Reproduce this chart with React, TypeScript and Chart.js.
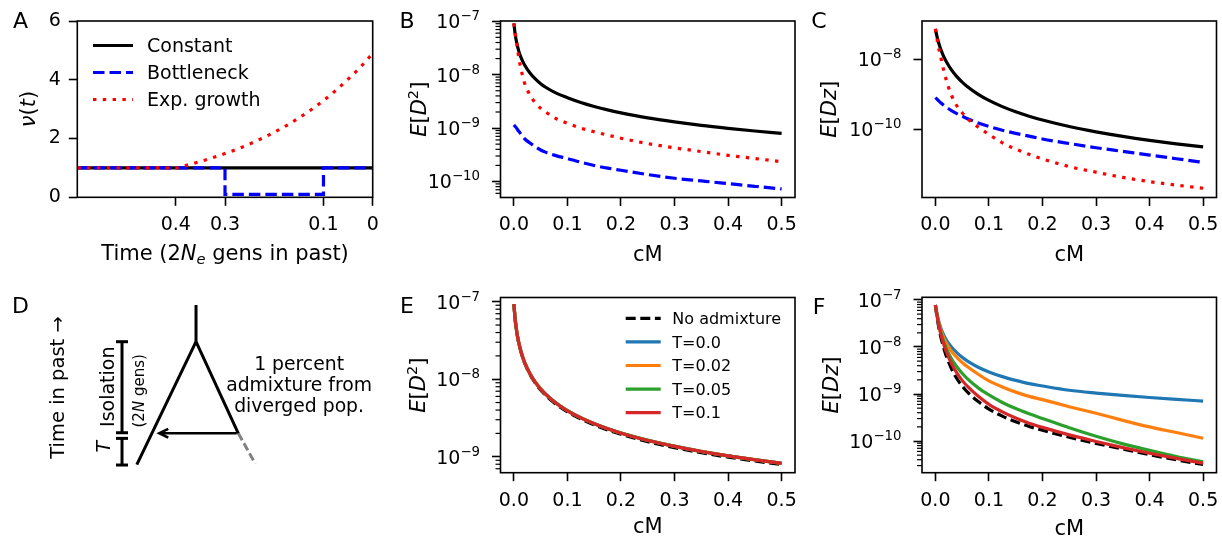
import React, { useEffect, useRef } from "react";
import { Chart, registerables } from "chart.js";

Chart.register(...registerables);

const FONT = "'DejaVu Sans', sans-serif";
const FS = 19;
const LABEL_FS = 21;

// ---------------- Panel A : population size histories ----------------
const timeTicks = [0.4, 0.3, 0.1, 0];
const nuTicks = [0, 2, 4, 6];
const constantTime = [0.6, 0];
const constantNu = [1, 1];
const bottleneckTime = [0.6, 0.3, 0.3, 0.1, 0.1, 0];
const bottleneckNu = [1, 1, 0.1, 0.1, 1, 1];
const growthTime = [0.6, 0.4, 0.375, 0.35, 0.325, 0.3, 0.275, 0.25, 0.225, 0.2, 0.175, 0.15, 0.125, 0.1, 0.075, 0.05, 0.025, 0];
const growthNu = [1, 1, 1.104, 1.22, 1.347, 1.488, 1.643, 1.814, 2.004, 2.213, 2.443, 2.7, 2.98, 3.29, 3.635, 4.02, 4.43, 4.9];

// ---------------- recombination distance grid (cM) ----------------
const cM = [0, 0.0025, 0.005, 0.0075, 0.01, 0.015, 0.02, 0.03, 0.04, 0.05, 0.06, 0.08, 0.1, 0.125, 0.15, 0.175, 0.2, 0.25, 0.3, 0.35, 0.4, 0.45, 0.5];
const cMTicks = [0, 0.1, 0.2, 0.3, 0.4, 0.5];

// ---------------- Panel B : log10 E[D^2] ----------------
const bConstantLog = [-7.04, -7.25, -7.39, -7.5, -7.59, -7.72, -7.82, -7.97, -8.08, -8.17, -8.24, -8.35, -8.43, -8.52, -8.595, -8.66, -8.715, -8.81, -8.885, -8.95, -9.005, -9.055, -9.1];
const bBottleneckLog = [-8.94, -8.97, -9.0, -9.04, -9.07, -9.14, -9.2, -9.28, -9.35, -9.41, -9.455, -9.52, -9.57, -9.64, -9.7, -9.75, -9.79, -9.87, -9.94, -9.99, -10.04, -10.09, -10.14];
const bGrowthLog = [-7.04, -7.22, -7.39, -7.57, -7.73, -7.97, -8.16, -8.38, -8.53, -8.63, -8.705, -8.83, -8.91, -9.0, -9.07, -9.13, -9.19, -9.29, -9.37, -9.44, -9.51, -9.57, -9.63];
const bTicks = [1e-10, 1e-9, 1e-8, 1e-7];

// ---------------- Panel C : log10 E[Dz] ----------------
const cConstantLog = [-7.134, -7.319, -7.472, -7.602, -7.715, -7.905, -8.06, -8.306, -8.498, -8.655, -8.788, -9.005, -9.178, -9.355, -9.502, -9.628, -9.738, -9.923, -10.075, -10.205, -10.318, -10.418, -10.507];
const cBottleneckLog = [-9.095, -9.136, -9.173, -9.21, -9.244, -9.307, -9.365, -9.467, -9.555, -9.63, -9.7, -9.82, -9.92, -10.03, -10.12, -10.2, -10.28, -10.41, -10.53, -10.635, -10.74, -10.845, -10.95];
const cGrowthLog = [-7.13, -7.36, -7.59, -7.78, -7.94, -8.28, -8.58, -9.03, -9.33, -9.53, -9.7, -9.94, -10.15, -10.39, -10.57, -10.72, -10.85, -11.07, -11.23, -11.38, -11.5, -11.6, -11.69];
const cTicks = [1e-10, 1e-8];

// ---------------- Panel E : log10 E[D^2] with admixture ----------------
const eNoAdmixLog = [-7.03, -7.236, -7.374, -7.478, -7.561, -7.689, -7.79, -7.94, -8.05, -8.14, -8.213, -8.33, -8.42, -8.513, -8.59, -8.655, -8.71, -8.805, -8.882, -8.948, -9.005, -9.055, -9.1];
const eT0Log = [-7.03, -7.233, -7.37, -7.473, -7.555, -7.682, -7.781, -7.928, -8.037, -8.124, -8.197, -8.313, -8.404, -8.496, -8.572, -8.637, -8.693, -8.787, -8.864, -8.93, -8.987, -9.037, -9.083];
const eT002Log = [-7.03, -7.234, -7.371, -7.474, -7.556, -7.683, -7.782, -7.929, -8.038, -8.125, -8.198, -8.314, -8.405, -8.497, -8.573, -8.638, -8.694, -8.788, -8.865, -8.931, -8.988, -9.038, -9.084];
const eT005Log = [-7.03, -7.234, -7.372, -7.474, -7.557, -7.684, -7.783, -7.93, -8.039, -8.126, -8.199, -8.315, -8.406, -8.498, -8.574, -8.639, -8.695, -8.789, -8.866, -8.932, -8.989, -9.039, -9.085];
const eT01Log = [-7.03, -7.235, -7.372, -7.475, -7.557, -7.685, -7.784, -7.931, -8.04, -8.127, -8.2, -8.316, -8.407, -8.499, -8.575, -8.64, -8.696, -8.79, -8.867, -8.933, -8.99, -9.04, -9.085];
const eTicks = [1e-9, 1e-8, 1e-7];

// ---------------- Panel F : log10 E[Dz] with admixture ----------------
const fNoAdmixLog = [-7.106, -7.32, -7.5, -7.65, -7.78, -8.0, -8.18, -8.46, -8.67, -8.83, -8.96, -9.16, -9.32, -9.47, -9.59, -9.69, -9.77, -9.92, -10.05, -10.17, -10.29, -10.4, -10.5];
const fT0Log = [-7.106, -7.26, -7.39, -7.5, -7.59, -7.73, -7.84, -8.0, -8.12, -8.22, -8.3, -8.43, -8.53, -8.63, -8.71, -8.78, -8.83, -8.92, -8.98, -9.03, -9.075, -9.115, -9.15];
const fT002Log = [-7.106, -7.27, -7.41, -7.53, -7.63, -7.79, -7.91, -8.09, -8.22, -8.33, -8.42, -8.58, -8.72, -8.85, -8.96, -9.05, -9.12, -9.27, -9.41, -9.56, -9.7, -9.82, -9.94];
const fT005Log = [-7.106, -7.29, -7.44, -7.57, -7.68, -7.87, -8.02, -8.25, -8.42, -8.56, -8.68, -8.87, -9.02, -9.18, -9.31, -9.42, -9.52, -9.72, -9.9, -10.06, -10.2, -10.33, -10.44];
const fT01Log = [-7.106, -7.3, -7.46, -7.6, -7.72, -7.92, -8.09, -8.35, -8.55, -8.71, -8.84, -9.05, -9.22, -9.38, -9.51, -9.62, -9.71, -9.87, -10.01, -10.14, -10.26, -10.37, -10.47];
const fTicks = [1e-10, 1e-9, 1e-8, 1e-7];

// ---------------- Panel D : schematic (time in units of 2N gens) ----------------
const treeTrunk = [[0, 1.73], [0, 1.333]];
const treeLeft = [[0, 1.333], [-0.64, 0.005]];
const treeRight = [[0, 1.333], [0.457, 0.343]];
const treeGhost = [[0.457, 0.343], [0.64, 0.015]];
const arrowShaft = [[0.44, 0.343], [-0.393, 0.343]];
const arrowHead = [[-0.3, 0.39], [-0.397, 0.343], [-0.3, 0.296]];
const isolationBar = [[-0.8, 0.349], [-0.8, 1.333]];
const tBar = [[-0.8, 0], [-0.8, 0.288]];

// ---------------- styles ----------------
const BLACK = "#000000";
const BLUE = "#0000ff";
const RED = "#ff0000";
const TAB_BLUE = "#1f77b4";
const TAB_ORANGE = "#ff7f0e";
const TAB_GREEN = "#2ca02c";
const TAB_RED = "#d62728";
const DASH = [11.5, 5];
const DOT = [3.4, 6.4];
const LW = 3.2;

type Seg = { t: string; it?: boolean; sc?: number; dy?: number };

function drawRich(ctx: CanvasRenderingContext2D, segs: Seg[], x: number, y: number, rot: number, size: number, align: "center" | "right" = "center") {
  ctx.save();
  ctx.translate(x, y);
  ctx.rotate(rot);
  ctx.fillStyle = BLACK;
  ctx.textAlign = "left";
  ctx.textBaseline = "alphabetic";
  const fontOf = (s: Seg) => `${s.it ? "italic " : ""}${size * (s.sc || 1)}px ${FONT}`;
  const widths = segs.map((s) => {
    ctx.font = fontOf(s);
    return ctx.measureText(s.t).width;
  });
  const total = widths.reduce((a, b) => a + b, 0);
  let cx = align === "right" ? -total : -total / 2;
  segs.forEach((s, i) => {
    ctx.font = fontOf(s);
    ctx.fillText(s.t, cx, 0.36 * size + (s.dy || 0) * size);
    cx += widths[i];
  });
  ctx.restore();
}

const framePlugin = {
  id: "frame",
  afterDatasetsDraw(chart: any) {
    const { ctx, chartArea: a } = chart;
    ctx.save();
    ctx.strokeStyle = BLACK;
    ctx.lineWidth = 1.6;
    ctx.strokeRect(a.left, a.top, a.right - a.left, a.bottom - a.top);
    ctx.restore();
  },
};

const minorTicksPlugin = {
  id: "minorTicks",
  afterDraw(chart: any) {
    const s = chart.scales.y;
    const a = chart.chartArea;
    const ctx = chart.ctx;
    const lo = Math.log10(s.min);
    const hi = Math.log10(s.max);
    ctx.save();
    ctx.strokeStyle = BLACK;
    ctx.lineWidth = 1.2;
    for (let e = Math.floor(lo); e <= Math.ceil(hi); e++) {
      for (let m = 2; m <= 9; m++) {
        const v = m * Math.pow(10, e);
        if (v < s.min || v > s.max) continue;
        const y = s.getPixelForValue(v);
        ctx.beginPath();
        ctx.moveTo(a.left - 5, y);
        ctx.lineTo(a.left, y);
        ctx.stroke();
      }
    }
    ctx.restore();
  },
};

// power-of-ten tick labels (10 with a raised exponent), placed from the scale's own ticks
const logLabelsPlugin = (gap: number) => ({
  id: "logLabels",
  afterDraw(chart: any) {
    const s = chart.scales.y;
    const a = chart.chartArea;
    s.ticks.forEach((t: any) => {
      const e = Math.round(Math.log10(t.value));
      const exp = String(e).replace("-", "\u2212");
      drawRich(chart.ctx, [{ t: "10" }, { t: exp, sc: 0.7, dy: -0.42 }], a.left - gap, s.getPixelForValue(t.value), 0, FS, "right");
    });
  },
});

function textPlugin(id: string, items: { segs: Seg[]; x: number; y: number; rot: number; size: number }[]) {
  return {
    id,
    afterDraw(chart: any) {
      items.forEach((it) => drawRich(chart.ctx, it.segs, it.x, it.y, it.rot, it.size));
    },
  };
}

function legendPlugin(cfg: { x0: number; x1: number; tx: number; y0: number; dy: number; size: number }) {
  return {
    id: "inLegend",
    afterDraw(chart: any) {
      const ctx = chart.ctx;
      ctx.save();
      chart.data.datasets.forEach((ds: any, i: number) => {
        const y = cfg.y0 + i * cfg.dy;
        ctx.strokeStyle = ds.borderColor;
        ctx.lineWidth = ds.borderWidth;
        ctx.lineCap = "butt";
        ctx.setLineDash(ds.borderDash || []);
        ctx.beginPath();
        ctx.moveTo(cfg.x0, y);
        ctx.lineTo(cfg.x1, y);
        ctx.stroke();
        ctx.setLineDash([]);
        ctx.fillStyle = BLACK;
        ctx.font = `${cfg.size}px ${FONT}`;
        ctx.textAlign = "left";
        ctx.textBaseline = "alphabetic";
        ctx.fillText(ds.label, cfg.tx, y + 0.36 * cfg.size);
      });
      ctx.restore();
    },
  };
}

const LETTER_SIZE = 22;
const letter = (t: string, x: number, y: number) => textPlugin("letter", [{ segs: [{ t }], x, y, rot: 0, size: LETTER_SIZE }]);

const tickFont = { family: FONT, size: FS };
const tickGrid = (len: number) => ({ display: true, drawOnChartArea: false, drawTicks: true, tickLength: len, tickWidth: 1.6, tickColor: BLACK });

const GEO: any = {
  A: { x: 0, y: 0, w: 400, h: 270, area: { l: 77.3, t: 21, r: 372.7, b: 197.3 } },
  B: { x: 400, y: 0, w: 410, h: 270, area: { l: 100.5, t: 21, r: 395, b: 197.5 } },
  C: { x: 810, y: 0, w: 412, h: 270, area: { l: 112, t: 21, r: 406.5, b: 197.5 } },
  D: { x: 0, y: 270, w: 400, h: 272 },
  E: { x: 400, y: 270, w: 410, h: 272, area: { l: 100.5, t: 27.5, r: 395, b: 202.7 } },
  F: { x: 810, y: 270, w: 412, h: 272, area: { l: 112, t: 27.3, r: 406.5, b: 202.7 } },
};

const baseOptions = (g: any) => ({
  animation: false,
  responsive: false,
  devicePixelRatio: 1,
  events: [],
  layout: { autoPadding: false, padding: { left: 0, top: g.area.t, right: g.w - g.area.r, bottom: 0 } },
  plugins: { legend: { display: false }, tooltip: { enabled: false } },
});

const xy = (xs: number[], ys: number[]) => xs.map((x, i) => ({ x, y: ys[i] }));

function makeA() {
  const g = GEO.A;
  return {
    type: "line",
    data: {
      datasets: [
        { label: "Constant", data: xy(constantTime, constantNu), borderColor: BLACK, borderWidth: LW, borderDash: [], pointRadius: 0, order: 3 },
        { label: "Bottleneck", data: xy(bottleneckTime, bottleneckNu), borderColor: BLUE, borderWidth: LW, borderDash: DASH, pointRadius: 0, order: 2 },
        { label: "Exp. growth", data: xy(growthTime, growthNu), borderColor: RED, borderWidth: LW, borderDash: DOT, pointRadius: 0, cubicInterpolationMode: "monotone", order: 1 },
      ],
    },
    options: {
      ...baseOptions(g),
      scales: {
        x: {
          type: "linear", min: 0, max: 0.6, reverse: true,
          afterBuildTicks: (s: any) => { s.ticks = timeTicks.map((v) => ({ value: v })); },
          afterFit: (s: any) => { s.height = g.h - g.area.b; s.paddingLeft = 0; s.paddingRight = 0; },
          ticks: { font: tickFont, color: BLACK, padding: 8, maxRotation: 0, autoSkip: false, callback: (v: any) => String(v) },
          grid: tickGrid(8.5), border: { display: false },
        },
        y: {
          type: "linear", min: 0, max: 6,
          afterBuildTicks: (s: any) => { s.ticks = nuTicks.map((v) => ({ value: v })); },
          afterFit: (s: any) => { s.width = g.area.l; s.paddingTop = 0; s.paddingBottom = 0; },
          ticks: { font: tickFont, color: BLACK, padding: 8, autoSkip: false, callback: (v: any) => String(v) },
          grid: tickGrid(8.5), border: { display: false },
        },
      },
    },
    plugins: [
      framePlugin,
      legendPlugin({ x0: 93, x1: 133, tx: 147, y0: 45.5, dy: 27, size: FS }),
      textPlugin("titles", [
        { segs: [{ t: "\u03bd", it: true }, { t: "(" }, { t: "t", it: true }, { t: ")" }], x: 27.5, y: 109, rot: -Math.PI / 2, size: LABEL_FS },
        { segs: [{ t: "Time (2" }, { t: "N", it: true }, { t: "e", it: true, sc: 0.7, dy: 0.2 }, { t: " gens in past)" }], x: 225, y: 252, rot: 0, size: LABEL_FS },
      ]),
      letter("A", 20.5, 20.5),
    ],
  };
}

type Series = { label: string; log: number[]; color: string; dash: number[]; order: number };

function logPanel(g: any, series: Series[], yMinLog: number, yMaxLog: number, yMajor: number[], minor: boolean, yTitle: Seg[], yTitleX: number, xTitleY: number, letterCfg: [string, number, number], extra: any[]) {
  const datasets = series.map((s) => ({
    label: s.label,
    data: cM.map((x, i) => ({ x, y: Math.pow(10, s.log[i]) })),
    borderColor: s.color,
    backgroundColor: s.color,
    borderDash: s.dash,
    borderWidth: LW,
    pointRadius: 0,
    cubicInterpolationMode: "monotone",
    order: s.order,
  }));
  const plugins: any[] = [framePlugin, logLabelsPlugin(20.5)];
  if (minor) plugins.push(minorTicksPlugin);
  plugins.push(textPlugin("titles", [
    { segs: yTitle, x: yTitleX, y: (g.area.t + g.area.b) / 2, rot: -Math.PI / 2, size: LABEL_FS },
    { segs: [{ t: "cM" }], x: (g.area.l + g.area.r) / 2, y: xTitleY, rot: 0, size: LABEL_FS },
  ]));
  plugins.push(letter(letterCfg[0], letterCfg[1], letterCfg[2]));
  plugins.push(...extra);
  return {
    type: "line",
    data: { datasets },
    options: {
      ...baseOptions(g),
      scales: {
        x: {
          type: "linear", min: -0.025, max: 0.525,
          afterBuildTicks: (s: any) => { s.ticks = cMTicks.map((v) => ({ value: v })); },
          afterFit: (s: any) => { s.height = g.h - g.area.b; s.paddingLeft = 0; s.paddingRight = 0; },
          ticks: { font: tickFont, color: BLACK, padding: 8, maxRotation: 0, autoSkip: false, callback: (v: any) => Number(v).toFixed(1) },
          grid: tickGrid(8.5), border: { display: false },
        },
        y: {
          type: "logarithmic", min: Math.pow(10, yMinLog), max: Math.pow(10, yMaxLog),
          afterBuildTicks: (s: any) => { s.ticks = yMajor.map((v) => ({ value: v })); },
          afterFit: (s: any) => { s.width = g.area.l; s.paddingTop = 0; s.paddingBottom = 0; },
          ticks: { display: false, autoSkip: false },
          grid: tickGrid(8.5), border: { display: false },
        },
      },
    },
    plugins,
  };
}

const ED2: Seg[] = [{ t: "E", it: true }, { t: "[" }, { t: "D", it: true }, { t: "2", sc: 0.7, dy: -0.38 }, { t: "]" }];
const EDZ: Seg[] = [{ t: "E", it: true }, { t: "[" }, { t: "Dz", it: true }, { t: "]" }];

const makeB = () =>
  logPanel(GEO.B, [
    { label: "Constant", log: bConstantLog, color: BLACK, dash: [], order: 3 },
    { label: "Bottleneck", log: bBottleneckLog, color: BLUE, dash: DASH, order: 2 },
    { label: "Exp. growth", log: bGrowthLog, color: RED, dash: DOT, order: 1 },
  ], -10.3, -6.995, bTicks, true, ED2, 18, 253.3, ["B", 7, 20.5], []);

const makeC = () =>
  logPanel(GEO.C, [
    { label: "Constant", log: cConstantLog, color: BLACK, dash: [], order: 3 },
    { label: "Bottleneck", log: cBottleneckLog, color: BLUE, dash: DASH, order: 2 },
    { label: "Exp. growth", log: cGrowthLog, color: RED, dash: DOT, order: 1 },
  ], -11.954, -6.906, cTicks, false, EDZ, 18, 253.3, ["C", 9, 20.5], []);

const admixSeries = (noAdmix: number[], t0: number[], t002: number[], t005: number[], t01: number[]): Series[] => [
  { label: "No admixture", log: noAdmix, color: BLACK, dash: [10, 4.6], order: 5 },
  { label: "T=0.0", log: t0, color: TAB_BLUE, dash: [], order: 4 },
  { label: "T=0.02", log: t002, color: TAB_ORANGE, dash: [], order: 3 },
  { label: "T=0.05", log: t005, color: TAB_GREEN, dash: [], order: 2 },
  { label: "T=0.1", log: t01, color: TAB_RED, dash: [], order: 1 },
];

const makeE = () =>
  logPanel(GEO.E, admixSeries(eNoAdmixLog, eT0Log, eT002Log, eT005Log, eT01Log), -9.206, -6.946, eTicks, true, ED2, 17, 255, ["E", 7, 35],
    [legendPlugin({ x0: 225.7, x1: 260.7, tx: 272.3, y0: 48.3, dy: 23.6, size: 16 })]);

const makeF = () =>
  logPanel(GEO.F, admixSeries(fNoAdmixLog, fT0Log, fT002Log, fT005Log, fT01Log), -10.674, -6.943, fTicks, true, EDZ, 20, 257, ["F", 9, 36], []);

function makeD() {
  const pts = (a: number[][]) => a.map(([x, y]) => ({ x, y }));
  const seg = (data: number[][], color: string, width: number, dash: number[] = []) => ({
    data: pts(data), showLine: true, borderColor: color, borderWidth: width, borderDash: dash, pointRadius: 0, tension: 0,
  });
  const bar = (data: number[][]) => ({
    data: pts(data), showLine: true, borderColor: BLACK, borderWidth: 3, pointStyle: "line", pointRadius: 6,
    pointBorderWidth: 3, pointBorderColor: BLACK, pointBackgroundColor: BLACK,
  });
  const texts = [
    { segs: [{ t: "Time in past \u2192" }], ux: -1.503, uy: 0.838, rot: -Math.PI / 2, size: 19.5 },
    { segs: [{ t: "Isolation" }], ux: -0.965, uy: 0.846, rot: -Math.PI / 2, size: FS },
    { segs: [{ t: "(2" }, { t: "N", it: true }, { t: " gens)" }], ux: -0.624, uy: 0.802, rot: -Math.PI / 2, size: 15 },
    { segs: [{ t: "T", it: true }], ux: -1.002, uy: 0.198, rot: -Math.PI / 2, size: FS },
    { segs: [{ t: "1 percent" }], ux: 1.114, uy: 1.099, rot: 0, size: 18.8 },
    { segs: [{ t: "admixture from" }], ux: 1.114, uy: 0.872, rot: 0, size: 18.8 },
    { segs: [{ t: "diverged pop." }], ux: 1.114, uy: 0.649, rot: 0, size: 18.8 },
  ];
  const diagramText = {
    id: "diagramText",
    afterDraw(chart: any) {
      const sx = chart.scales.x;
      const sy = chart.scales.y;
      texts.forEach((t) => drawRich(chart.ctx, t.segs, sx.getPixelForValue(t.ux), sy.getPixelForValue(t.uy), t.rot, t.size));
    },
  };
  return {
    type: "scatter",
    data: {
      datasets: [
        seg(treeTrunk, BLACK, 3),
        seg(treeLeft, BLACK, 3),
        seg(treeRight, BLACK, 3),
        seg(treeGhost, "#808080", 3, [8, 3.5]),
        seg(arrowShaft, BLACK, 2.6),
        seg(arrowHead, BLACK, 2.6),
        bar(isolationBar),
        bar(tBar),
      ],
    },
    options: {
      animation: false,
      responsive: false,
      devicePixelRatio: 1,
      events: [],
      layout: { autoPadding: false, padding: 0 },
      plugins: { legend: { display: false }, tooltip: { enabled: false } },
      scales: {
        x: { type: "linear", display: false, min: -2.119, max: 2.205 },
        y: { type: "linear", display: false, min: -0.832, max: 2.108 },
      },
    },
    plugins: [diagramText, letter("D", 20.5, 35)],
  };
}

const PANELS = [
  { key: "A", g: GEO.A, make: makeA },
  { key: "B", g: GEO.B, make: makeB },
  { key: "C", g: GEO.C, make: makeC },
  { key: "D", g: GEO.D, make: makeD },
  { key: "E", g: GEO.E, make: makeE },
  { key: "F", g: GEO.F, make: makeF },
];

export default function App() {
  const canvases = useRef<(HTMLCanvasElement | null)[]>([]);
  useEffect(() => {
    Chart.defaults.font.family = FONT;
    const charts = PANELS.map((p, i) => new Chart(canvases.current[i] as HTMLCanvasElement, p.make() as any));
    return () => charts.forEach((c) => c.destroy());
  }, []);
  return (
    <div style={{ position: "fixed", left: 0, top: 0, width: 1222, height: 542, background: "#ffffff", overflow: "hidden" }}>
      {PANELS.map((p, i) => (
        <canvas
          key={p.key}
          ref={(el) => { canvases.current[i] = el; }}
          width={p.g.w}
          height={p.g.h}
          style={{ position: "absolute", left: p.g.x, top: p.g.y, width: p.g.w, height: p.g.h }}
        />
      ))}
    </div>
  );
}
